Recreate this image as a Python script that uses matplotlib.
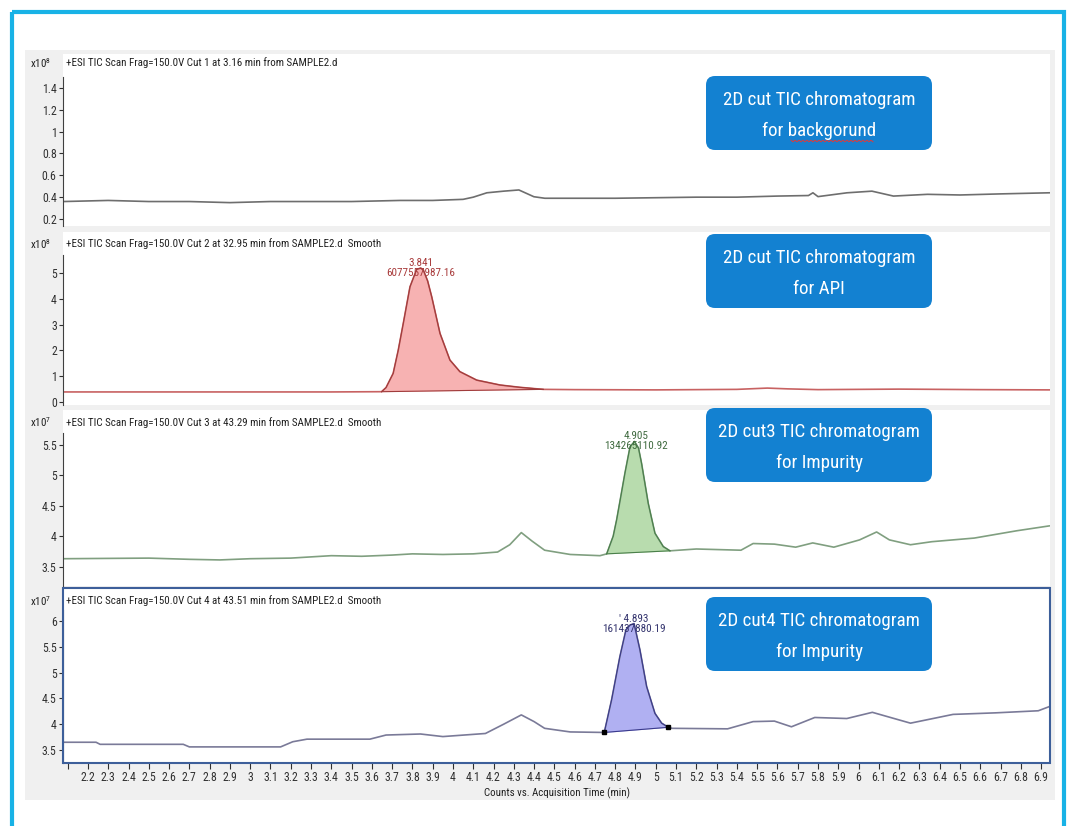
import numpy as np
import matplotlib
matplotlib.use('Agg')
import matplotlib.pyplot as plt
from matplotlib.patches import Rectangle, FancyBboxPatch

# Canvas size in pixels
W, H = 1068, 826

# Acquisition time ticks (min), the first tick has no label
time_ticks = np.round(np.arange(2.1, 6.95, 0.1), 1)
time_labels = ['' if t == 2.1 else '%g' % t for t in time_ticks]
time_range = (2.077, 6.944)

# Cut 1 background trace, counts x10^8
bg_time = [2.08, 2.3, 2.5, 2.7, 2.9, 3.1, 3.3, 3.5, 3.74, 3.9, 4.05, 4.1, 4.167, 4.25,
           4.325, 4.399, 4.453, 4.6, 4.8, 5.0, 5.2, 5.4, 5.6, 5.753, 5.775, 5.8, 5.943,
           6.066, 6.172, 6.34, 6.5, 6.7, 6.94]
bg_counts = [0.36, 0.37, 0.36, 0.36, 0.35, 0.36, 0.36, 0.36, 0.37, 0.37, 0.38, 0.40, 0.44,
             0.455, 0.466, 0.404, 0.39, 0.39, 0.39, 0.395, 0.40, 0.40, 0.41, 0.415, 0.44,
             0.405, 0.44, 0.455, 0.41, 0.426, 0.42, 0.43, 0.44]

# Cut 2 API trace, counts x10^8
api_time = [2.08, 2.6, 3.0, 3.4, 3.648, 3.67, 3.705, 3.73, 3.755, 3.788, 3.821, 3.841, 3.854,
            3.875, 3.895, 3.936, 3.985, 4.034, 4.117, 4.232, 4.33, 4.445, 4.6, 5.0, 5.4,
            5.55, 5.65, 5.8, 6.2, 6.6, 6.94]
api_counts = [0.38, 0.38, 0.38, 0.38, 0.39, 0.55, 1.1, 2.0, 3.05, 4.47, 5.15, 5.2, 5.12,
              4.7, 4.09, 2.66, 1.62, 1.17, 0.84, 0.65, 0.56, 0.48, 0.47, 0.46, 0.48,
              0.53, 0.5, 0.47, 0.49, 0.47, 0.46]
api_peak = (3.648, 4.445)
api_apex = (3.841, 5.2)
api_label = '3.841\n6077557987.16'

# Cut 3 impurity trace, counts x10^7
imp3_time = [2.08, 2.5, 2.7, 2.85, 3.0, 3.2, 3.4, 3.55, 3.7, 3.8, 3.95, 4.1, 4.22, 4.28,
             4.337, 4.39, 4.452, 4.578, 4.725, 4.758, 4.79, 4.807, 4.83, 4.848, 4.873,
             4.895, 4.915, 4.93, 4.963, 4.996, 5.037, 5.07, 5.2, 5.42, 5.48, 5.585, 5.69,
             5.774, 5.878, 6.005, 6.089, 6.152, 6.256, 6.361, 6.571, 6.78, 6.94]
imp3_counts = [3.63, 3.64, 3.62, 3.61, 3.63, 3.64, 3.68, 3.67, 3.69, 3.71, 3.70, 3.71, 3.74,
               3.86, 4.06, 3.92, 3.77, 3.70, 3.68, 3.71, 4.0, 4.27, 4.7, 5.04, 5.47,
               5.56, 5.45, 5.20, 4.54, 4.05, 3.83, 3.76, 3.79, 3.77, 3.88, 3.87, 3.82,
               3.89, 3.82, 3.94, 4.07, 3.94, 3.86, 3.91, 3.97, 4.09, 4.17]
imp3_peak = (4.758, 5.07)
imp3_apex = (4.905, 5.56)
imp3_label = '4.905\n134265110.92'

# Cut 4 impurity trace, counts x10^7
imp4_time = [2.08, 2.24, 2.26, 2.67, 2.70, 3.15, 3.21, 3.28, 3.59, 3.67, 3.84, 3.95, 4.16,
             4.25, 4.337, 4.40, 4.452, 4.578, 4.746, 4.782, 4.823, 4.853, 4.873, 4.893,
             4.922, 4.955, 4.996, 5.029, 5.062, 5.081, 5.354, 5.48, 5.585, 5.669, 5.784,
             5.942, 6.068, 6.256, 6.466, 6.676, 6.886, 6.94]
imp4_counts = [3.65, 3.65, 3.61, 3.61, 3.56, 3.56, 3.66, 3.71, 3.71, 3.79, 3.81, 3.76, 3.82,
               4.0, 4.18, 4.05, 3.92, 3.85, 3.84, 4.47, 5.31, 5.83, 5.92, 5.95,
               5.44, 4.73, 4.21, 4.02, 3.94, 3.92, 3.91, 4.05, 4.06, 3.95, 4.13,
               4.11, 4.23, 4.02, 4.19, 4.22, 4.26, 4.34]
imp4_peak = (4.746, 5.062)
imp4_apex = (4.893, 5.95)
imp4_label = "' 4.893\n161437880.19"

titles = ['+ESI TIC Scan Frag=150.0V Cut 1 at 3.16 min from SAMPLE2.d',
          '+ESI TIC Scan Frag=150.0V Cut 2 at 32.95 min from SAMPLE2.d  Smooth',
          '+ESI TIC Scan Frag=150.0V Cut 3 at 43.29 min from SAMPLE2.d  Smooth',
          '+ESI TIC Scan Frag=150.0V Cut 4 at 43.51 min from SAMPLE2.d  Smooth']
exponents = ['8', '8', '7', '7']
callouts = [('2D cut TIC chromatogram', 'for backgorund'),
            ('2D cut TIC chromatogram', 'for API'),
            ('2D cut3 TIC chromatogram', 'for Impurity'),
            ('2D cut4 TIC chromatogram', 'for Impurity')]

plt.rcParams['font.family'] = ['Roboto Condensed', 'Liberation Sans', 'DejaVu Sans']
plt.rcParams['mathtext.default'] = 'regular'

def px_box(left, top, right, bottom):
# pixel box on the canvas -> figure fraction rect
    return [left / W, 1 - bottom / H, (right - left) / W, (bottom - top) / H]

fig = plt.figure(figsize=(W / 100, H / 100), dpi=100)
fig.patch.set_facecolor('white')

# background layer in pixel coordinates
bg = fig.add_axes([0, 0, 1, 1], zorder=0)
bg.set_xlim(0, W)
bg.set_ylim(H, 0)
bg.axis('off')
bg.add_patch(Rectangle((25, 50), 1030, 750, fc='#f0f0f0', ec='none'))

# foreground layer for frame and callouts
fg = fig.add_axes([0, 0, 1, 1], zorder=5)
fg.set_xlim(0, W)
fg.set_ylim(H, 0)
fg.axis('off')
fg.patch.set_alpha(0)

# panel layout: white strip top, axes top, bottom, ylim, ticks, title y, callout top
panels = [
    dict(strip=54, top=76.7, bottom=226, ylim=(0.136, 1.503), yticks=np.arange(0.2, 1.41, 0.2),
         title_y=63, box_top=76, x=bg_time, y=bg_counts, line='#6e6e6e'),
    dict(strip=232, top=255, bottom=405, ylim=(-0.128, 5.708), yticks=np.arange(0, 5.1, 1),
         title_y=244, box_top=234, x=api_time, y=api_counts, line='#c86262',
         peak=api_peak, apex=api_apex, label=api_label, fill='#f7b2b2', edge='#a03c3c',
         txt='#a83a3a'),
    dict(strip=410, top=433, bottom=586, ylim=(3.181, 5.699), yticks=np.arange(3.5, 5.6, 0.5),
         title_y=422.5, box_top=408, x=imp3_time, y=imp3_counts, line='#809f80',
         peak=imp3_peak, apex=imp3_apex, label=imp3_label, fill='#b8dcae', edge='#4a7f4a',
         txt='#3f6a3f'),
    dict(strip=588, top=610, bottom=763, ylim=(3.248, 6.213), yticks=np.arange(3.5, 6.1, 0.5),
         title_y=601, box_top=597, x=imp4_time, y=imp4_counts, line='#7a7a98',
         peak=imp4_peak, apex=imp4_apex, label=imp4_label, fill='#b0b0f2', edge='#3a3a8c',
         txt='#34346e', marks=True),
]

for i, p in enumerate(panels):
    bg.add_patch(Rectangle((63, p['strip']), 987, p['bottom'] - p['strip'], fc='white', ec='none'))
    bg.text(66, p['title_y'], titles[i], fontsize=7.9, color='#202020', va='center', ha='left')
    bg.text(30, p['title_y'], 'x10$^{%s}$' % exponents[i], fontsize=7.9, color='#202020',
            va='center', ha='left')

    ax = fig.add_axes(px_box(63, p['top'], 1050, p['bottom']), zorder=2)
    ax.patch.set_alpha(0)
    x = np.array(p['x'])
    y = np.array(p['y'])
    ax.plot(x, y, color=p['line'], lw=1.2)

    if 'peak' in p:
        s, e = p['peak']
        base = np.interp(x, [s, e], [np.interp(s, x, y), np.interp(e, x, y)])
        sel = (x >= s) & (x <= e)
        ax.fill_between(x, y, base, where=sel, color=p['fill'], lw=0)
        ax.plot(x[sel], y[sel], color=p['edge'], lw=0.8)
        ax.plot([s, e], [np.interp(s, x, y), np.interp(e, x, y)], color=p['edge'], lw=0.8)
        ax.text(p['apex'][0], p['apex'][1], p['label'], ha='center', va='center',
                fontsize=8, color=p['txt'], linespacing=1.0)
        if p.get('marks'):
            ax.plot([s, e], [np.interp(s, x, y), np.interp(e, x, y)], 's', color='black', ms=3.5)

    ax.set_xlim(*time_range)
    ax.set_ylim(*p['ylim'])
    ax.set_yticks(p['yticks'])
    ax.set_yticklabels(['%g' % round(v, 1) for v in p['yticks']])
    ax.tick_params(axis='y', length=3, width=0.8, pad=1.5, labelsize=8.5, colors='#303030')
    for side in ['top', 'right', 'bottom']:
        ax.spines[side].set_visible(False)
    ax.spines['left'].set_color('#404040')
    ax.spines['left'].set_linewidth(0.8)

    if i == 3:
        ax.set_xticks(time_ticks)
        ax.set_xticklabels(time_labels)
        ax.tick_params(axis='x', length=4, width=0.8, pad=2, labelsize=8.5, colors='#303030')
        ax.set_xlabel('Counts vs. Acquisition Time (min)', fontsize=7.8, color='#202020',
                      labelpad=2)
    else:
        ax.set_xticks([])

    # callout box
    t = p['box_top']
    fg.add_patch(FancyBboxPatch((706, t), 226, 74, boxstyle='round,pad=0,rounding_size=9',
                                fc='#1381d1', ec='none'))
    fg.text(819, t + 24, callouts[i][0], color='white', fontsize=13.7, ha='center', va='center')
    fg.text(819, t + 55, callouts[i][1], color='white', fontsize=13.7, ha='center', va='center')

# selected panel border
fg.add_patch(Rectangle((63, 588), 987, 175, fill=False, ec='#3d5f9a', lw=1.5))

# spell-check squiggle under the typo
sq_x = np.arange(791, 874, 2)
sq_y = 141 + np.where(np.arange(len(sq_x)) % 2 == 0, -0.8, 0.8)
fg.plot(sq_x, sq_y, color='#e03a3a', lw=0.7)

# outer cyan frame
fg.add_patch(Rectangle((12, 12), 1052, 830, fill=False, ec='#18b2e6', lw=3, clip_on=False))

plt.savefig('out.png', dpi=100)
